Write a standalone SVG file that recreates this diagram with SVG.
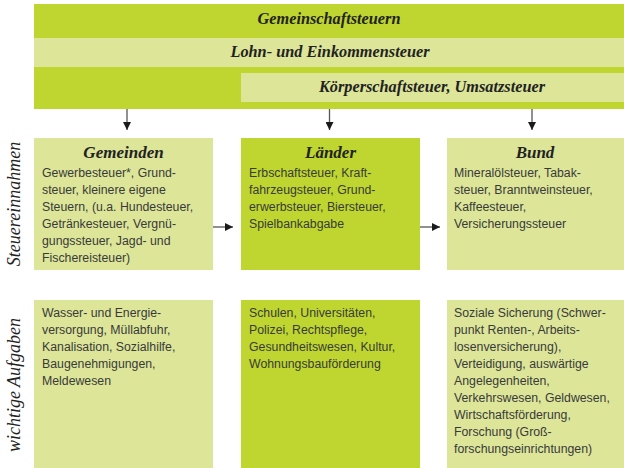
<svg xmlns="http://www.w3.org/2000/svg" width="624" height="468" viewBox="0 0 624 468">
<style>
.dark{fill:#bed62f}
.light{fill:#dce598}
.band{font-family:"Liberation Serif",serif;font-style:italic;font-weight:bold;font-size:16.3px;fill:#222;text-anchor:middle}
.ttl{font-family:"Liberation Serif",serif;font-style:italic;font-weight:bold;font-size:17px;fill:#222;text-anchor:middle}
.side{font-family:"Liberation Serif",serif;font-style:italic;font-size:18px;fill:#222;text-anchor:middle}
.body{font-family:"Liberation Sans",Arial,sans-serif;font-size:12.3px;fill:#3a3a3a}
.conn{stroke:#555;stroke-width:1.3;fill:none}
</style>
<defs>
<marker id="ah" markerWidth="8" markerHeight="8" refX="8" refY="4" orient="auto" markerUnits="userSpaceOnUse">
<path d="M0,0 L8,4 L0,8 Z" fill="#1a1a1a"/>
</marker>
</defs>
<rect width="624" height="468" fill="#ffffff"/>
<g id="gemeinschaftsteuern">
<rect class="dark" x="34" y="4" width="590" height="105"/>
<text class="band" x="329" y="24">Gemeinschaftsteuern</text>
</g>
<g id="lohnsteuer">
<rect class="light" x="34" y="38" width="590" height="29"/>
<text class="band" x="330" y="57">Lohn- und Einkommensteuer</text>
</g>
<g id="koerperschaftsteuer">
<rect class="light" x="241" y="73" width="383" height="29"/>
<text class="band" x="432" y="92">Körperschaftsteuer, Umsatzsteuer</text>
</g>
<g id="label-steuer">
<text class="side" transform="translate(20,204) rotate(-90)">Steuereinnahmen</text>
</g>
<g id="label-aufgaben">
<text class="side" transform="translate(20,385) rotate(-90)">wichtige Aufgaben</text>
</g>
<g id="gemeinden">
<rect class="light" x="34" y="138" width="179" height="132"/>
<text class="ttl" x="123.5" y="158">Gemeinden</text>
<text class="body" x="42" y="177">Gewerbesteuer*, Grund-</text>
<text class="body" x="42" y="194">steuer, kleinere eigene</text>
<text class="body" x="42" y="211">Steuern, (u.a. Hundesteuer,</text>
<text class="body" x="42" y="228">Getränkesteuer, Vergnü-</text>
<text class="body" x="42" y="245">gungssteuer, Jagd- und</text>
<text class="body" x="42" y="262">Fischereisteuer)</text>
</g>
<g id="laender">
<rect class="dark" x="241" y="138" width="179" height="132"/>
<text class="ttl" x="330.5" y="158">Länder</text>
<text class="body" x="249" y="177">Erbschaftsteuer, Kraft-</text>
<text class="body" x="249" y="194">fahrzeugsteuer, Grund-</text>
<text class="body" x="249" y="211">erwerbsteuer, Biersteuer,</text>
<text class="body" x="249" y="228">Spielbankabgabe</text>
</g>
<g id="bund">
<rect class="light" x="447" y="138" width="177" height="132"/>
<text class="ttl" x="535" y="158">Bund</text>
<text class="body" x="454" y="177">Mineralölsteuer, Tabak-</text>
<text class="body" x="454" y="194">steuer, Branntweinsteuer,</text>
<text class="body" x="454" y="211">Kaffeesteuer,</text>
<text class="body" x="454" y="228">Versicherungssteuer</text>
</g>
<g id="aufgaben-gemeinden">
<rect class="light" x="34" y="300" width="179" height="168"/>
<text class="body" x="42" y="317">Wasser- und Energie-</text>
<text class="body" x="42" y="334">versorgung, Müllabfuhr,</text>
<text class="body" x="42" y="351">Kanalisation, Sozialhilfe,</text>
<text class="body" x="42" y="368">Baugenehmigungen,</text>
<text class="body" x="42" y="385">Meldewesen</text>
</g>
<g id="aufgaben-laender">
<rect class="dark" x="241" y="300" width="179" height="168"/>
<text class="body" x="249" y="317">Schulen, Universitäten,</text>
<text class="body" x="249" y="334">Polizei, Rechtspflege,</text>
<text class="body" x="249" y="351">Gesundheitswesen, Kultur,</text>
<text class="body" x="249" y="368">Wohnungsbauförderung</text>
</g>
<g id="aufgaben-bund">
<rect class="light" x="447" y="300" width="177" height="168"/>
<text class="body" x="454" y="317">Soziale Sicherung (Schwer-</text>
<text class="body" x="454" y="334">punkt Renten-, Arbeits-</text>
<text class="body" x="454" y="351">losenversicherung),</text>
<text class="body" x="454" y="368">Verteidigung, auswärtige</text>
<text class="body" x="454" y="385">Angelegenheiten,</text>
<text class="body" x="454" y="402">Verkehrswesen, Geldwesen,</text>
<text class="body" x="454" y="419">Wirtschaftsförderung,</text>
<text class="body" x="454" y="436">Forschung (Groß-</text>
<text class="body" x="454" y="453">forschungseinrichtungen)</text>
</g>
<g id="connectors">
<line class="conn" x1="127" y1="109" x2="127" y2="130" marker-end="url(#ah)"/>
<line class="conn" x1="329.5" y1="109" x2="329.5" y2="130" marker-end="url(#ah)"/>
<line class="conn" x1="532" y1="109" x2="532" y2="130" marker-end="url(#ah)"/>
<line class="conn" x1="213" y1="227" x2="233" y2="227" marker-end="url(#ah)"/>
<line class="conn" x1="420" y1="227" x2="440" y2="227" marker-end="url(#ah)"/>
</g>
</svg>
